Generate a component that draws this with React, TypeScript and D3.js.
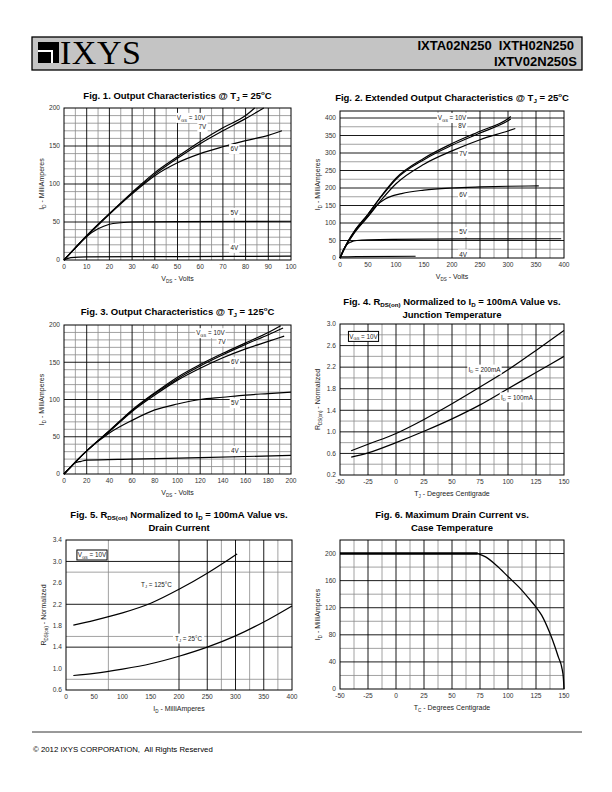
import React from 'react';
import * as d3 from 'd3';

type Pt = [number, number];

const FONT = "'Liberation Sans', Arial, Helvetica, sans-serif";
const NARROW = "'Liberation Sans Narrow', 'Arial Narrow', 'Liberation Sans', Arial, sans-serif";

// ---------------- Fig. 1 ----------------
const fig1XTicks = [0, 10, 20, 30, 40, 50, 60, 70, 80, 90, 100];
const fig1YTicks = [0, 50, 100, 150, 200];
const fig1Vgs10: Pt[] = [[0, 0], [5, 16], [10, 32], [20, 61], [30, 89], [40, 115], [50, 136], [60, 156], [70, 174], [80, 190], [84, 200]];
const fig1Vgs7: Pt[] = [[0, 0], [5, 16], [10, 32], [20, 61], [30, 88], [40, 113], [50, 134], [60, 153], [70, 170], [80, 186], [88, 200]];
const fig1Vgs6: Pt[] = [[0, 0], [5, 16], [10, 31], [20, 60], [30, 87], [40, 111], [50, 128], [60, 140], [70, 149], [80, 157], [90, 164], [96, 170]];
const fig1Vgs5: Pt[] = [[0, 0], [5, 16], [10, 31], [15, 41], [20, 47], [25, 49], [30, 50], [50, 50.5], [100, 51]];
const fig1Vgs4: Pt[] = [[0, 0], [3, 3], [10, 4], [50, 4.5], [100, 5]];

// ---------------- Fig. 2 ----------------
const fig2XTicks = [0, 50, 100, 150, 200, 250, 300, 350, 400];
const fig2YTicks = [0, 50, 100, 150, 200, 250, 300, 350, 400];
const fig2Vgs10: Pt[] = [[0, 0], [10, 35], [25, 75], [50, 125], [75, 180], [100, 228], [150, 285], [200, 327], [250, 362], [300, 398], [305, 404]];
const fig2Vgs8: Pt[] = [[0, 0], [10, 35], [25, 75], [50, 125], [75, 178], [100, 225], [150, 281], [200, 322], [250, 357], [300, 392], [305, 397]];
const fig2Vgs7: Pt[] = [[0, 0], [10, 33], [25, 70], [50, 118], [75, 168], [100, 212], [150, 268], [200, 306], [250, 338], [300, 363], [313, 370]];
const fig2Vgs6: Pt[] = [[0, 0], [10, 33], [25, 72], [50, 120], [65, 150], [80, 168], [110, 184], [150, 194], [200, 200], [250, 203], [300, 205], [355, 206]];
const fig2Vgs5: Pt[] = [[0, 0], [5, 20], [12, 38], [20, 46], [30, 50], [50, 52], [150, 54], [395, 55]];
const fig2Vgs4: Pt[] = [[0, 0], [3, 3], [30, 4], [135, 5]];

// ---------------- Fig. 3 ----------------
const fig3XTicks = [0, 20, 40, 60, 80, 100, 120, 140, 160, 180, 200];
const fig3YTicks = [0, 50, 100, 150, 200];
const fig3Vgs10: Pt[] = [[0, 0], [10, 16], [20, 31], [40, 58], [60, 86], [80, 109], [100, 130], [120, 147], [140, 162], [160, 176], [180, 190], [191, 199]];
const fig3Vgs7: Pt[] = [[0, 0], [10, 16], [20, 31], [40, 58], [60, 85], [80, 108], [100, 128], [120, 145], [140, 160], [160, 174], [180, 187], [193, 196]];
const fig3Vgs6: Pt[] = [[0, 0], [10, 16], [20, 31], [40, 57], [60, 84], [80, 106], [100, 126], [120, 142], [140, 156], [160, 168], [180, 178], [194, 185]];
const fig3Vgs5: Pt[] = [[0, 0], [10, 16], [20, 31], [40, 55], [60, 72], [80, 86], [100, 94], [120, 100], [140, 103], [160, 106], [180, 108], [200, 110]];
const fig3Vgs4: Pt[] = [[0, 0], [5, 8], [10, 15], [15, 17], [20, 18.5], [60, 20], [120, 22], [200, 25]];

// ---------------- Fig. 4 ----------------
const fig4XTicks = [-50, -25, 0, 25, 50, 75, 100, 125, 150];
const fig4YTicks = [0.2, 0.6, 1.0, 1.4, 1.8, 2.2, 2.6, 3.0];
const fig4Id200: Pt[] = [[-40, 0.65], [-25, 0.77], [0, 0.97], [25, 1.23], [50, 1.52], [75, 1.83], [100, 2.15], [125, 2.51], [150, 2.88]];
const fig4Id100: Pt[] = [[-40, 0.53], [-25, 0.61], [0, 0.8], [25, 1.01], [50, 1.24], [75, 1.5], [100, 1.8], [125, 2.1], [150, 2.4]];

// ---------------- Fig. 5 ----------------
const fig5XTicks = [0, 50, 100, 150, 200, 250, 300, 350, 400];
const fig5YTicks = [0.6, 1.0, 1.4, 1.8, 2.2, 2.6, 3.0, 3.4];
const fig5Tj125: Pt[] = [[13, 1.81], [50, 1.9], [100, 2.04], [150, 2.22], [200, 2.48], [250, 2.78], [290, 3.05], [303, 3.14]];
const fig5Tj25: Pt[] = [[13, 0.87], [50, 0.91], [100, 0.99], [150, 1.09], [200, 1.23], [250, 1.4], [300, 1.61], [350, 1.87], [400, 2.17]];

// ---------------- Fig. 6 ----------------
const fig6XTicks = [-50, -25, 0, 25, 50, 75, 100, 125, 150];
const fig6YTicks = [0, 40, 80, 120, 160, 200];
const fig6Flat: Pt[] = [[-50, 200], [73, 200]];
const fig6Derate: Pt[] = [[73, 200], [80, 195], [90, 182], [100, 166], [110, 150], [120, 131], [125, 121], [130, 109], [137, 84], [142, 62], [145, 47], [148, 32], [149.5, 15], [150, 0]];

type Kind = 'n' | 'sub' | 'sup';
function parseRich(s: string) {
  const out: { t: string; k: Kind }[] = [];
  const re = /_\{([^}]*)\}|\^\{([^}]*)\}|([^_^]+)/g;
  let m: RegExpExecArray | null;
  while ((m = re.exec(s))) {
    if (m[1] !== undefined) out.push({ t: m[1], k: 'sub' });
    else if (m[2] !== undefined) out.push({ t: m[2], k: 'sup' });
    else out.push({ t: m[3], k: 'n' });
  }
  return out;
}
function estW(s: string, size: number, f = 0.5) {
  return parseRich(s).reduce((a, sg) => a + sg.t.length * (sg.k === 'n' ? size : size * 0.65) * f, 0);
}

function Rich(p: { text: string; x: number; y: number; size: number; anchor?: string; weight?: string | number; fill?: string; family?: string; transform?: string }) {
  const segs = parseRich(p.text);
  let prev = 0;
  return (
    <text x={p.x} y={p.y} fontSize={p.size} textAnchor={p.anchor || 'start'} fontWeight={p.weight || 'normal'} fill={p.fill || '#000'} fontFamily={p.family || FONT} transform={p.transform}>
      {segs.map((s, i) => {
        const shift = s.k === 'sub' ? p.size * 0.25 : s.k === 'sup' ? -p.size * 0.38 : 0;
        const dy = shift - prev;
        prev = shift;
        return (
          <tspan key={i} dy={dy} fontSize={s.k === 'n' ? p.size : p.size * 0.65}>
            {s.t}
          </tspan>
        );
      })}
    </text>
  );
}

interface Lbl { text: string; x: number; y: number; boxed?: boolean }
interface Ser { pts: Pt[]; w?: number }
interface Cfg {
  left: number; top: number; width: number; height: number;
  xDomain: [number, number]; yDomain: [number, number];
  xTicks: number[]; yTicks: number[]; yFmt?: (v: number) => string;
  vMajor: number[]; vMinor: number[]; hMajor: number[]; hMinor: number[];
  series: Ser[]; labels: Lbl[];
  title: string[]; titleY: number[];
  xTitle: string; yTitle: string;
}

function Chart({ c }: { c: Cfg }) {
  const x = d3.scaleLinear().domain(c.xDomain).range([c.left, c.left + c.width]);
  const y = d3.scaleLinear().domain(c.yDomain).range([c.top + c.height, c.top]);
  const line = d3.line<Pt>().x(d => x(d[0])).y(d => y(d[1])).curve(d3.curveMonotoneX);
  const bottom = c.top + c.height;
  const right = c.left + c.width;
  const cx = c.left + c.width / 2;
  const cy = c.top + c.height / 2;
  const fmt = c.yFmt || ((v: number) => String(v));
  return (
    <g>
      {c.vMinor.map((v, i) => <line key={'vm' + i} x1={x(v)} x2={x(v)} y1={c.top} y2={bottom} stroke="#8a8a8a" strokeWidth={0.8} />)}
      {c.hMinor.map((v, i) => <line key={'hm' + i} y1={y(v)} y2={y(v)} x1={c.left} x2={right} stroke="#8a8a8a" strokeWidth={0.8} />)}
      {c.vMajor.map((v, i) => <line key={'vM' + i} x1={x(v)} x2={x(v)} y1={c.top} y2={bottom} stroke="#000" strokeWidth={0.9} />)}
      {c.hMajor.map((v, i) => <line key={'hM' + i} y1={y(v)} y2={y(v)} x1={c.left} x2={right} stroke="#000" strokeWidth={0.9} />)}
      {c.series.map((s, i) => <path key={'s' + i} d={line(s.pts) || ''} fill="none" stroke="#000" strokeWidth={s.w || 1.2} />)}
      {c.labels.map((l, i) => {
        const w = estW(l.text, 6.3) + 4;
        const lx = x(l.x);
        const ly = y(l.y);
        return (
          <g key={'l' + i}>
            <rect x={lx - w / 2} y={ly - 5} width={w} height={10} fill="#fff" stroke={l.boxed ? '#000' : 'none'} strokeWidth={l.boxed ? 1 : 0} />
            <Rich text={l.text} x={lx} y={ly + 2.2} size={6.3} anchor="middle" fill="#222" />
          </g>
        );
      })}
      <rect x={c.left} y={c.top} width={c.width} height={c.height} fill="none" stroke="#000" strokeWidth={1} />
      {c.xTicks.map((v, i) => (
        <text key={'xt' + i} x={x(v)} y={bottom + 9} fontSize={6.6} textAnchor="middle" fill="#333" fontFamily={FONT}>{v}</text>
      ))}
      {c.yTicks.map((v, i) => (
        <text key={'yt' + i} x={c.left - 4} y={y(v) + 2.3} fontSize={6.6} textAnchor="end" fill="#333" fontFamily={FONT}>{fmt(v)}</text>
      ))}
      <Rich text={c.xTitle} x={cx} y={bottom + 21} size={7} anchor="middle" fill="#222" />
      <Rich text={c.yTitle} x={0} y={0} size={7} anchor="middle" fill="#222" transform={`translate(${c.left - 20},${cy}) rotate(-90)`} />
      {c.title.map((t, i) => (
        <Rich key={'t' + i} text={t} x={cx} y={c.titleY[i]} size={9.5} anchor="middle" weight="bold" family={NARROW} />
      ))}
    </g>
  );
}

const grid = (a: number, b: number, s: number, skip: number[] = []) =>
  d3.range(a, b + s / 2, s).filter(v => !skip.some(k => Math.abs(k - v) < 1e-6));

const charts: Cfg[] = [
  {
    left: 64, top: 108, width: 227, height: 152, xDomain: [0, 100], yDomain: [0, 200],
    xTicks: fig1XTicks, yTicks: fig1YTicks,
    vMajor: grid(10, 90, 10), vMinor: grid(5, 95, 10), hMajor: [50, 100, 150], hMinor: grid(10, 190, 10, [50, 100, 150]),
    series: [{ pts: fig1Vgs10 }, { pts: fig1Vgs7 }, { pts: fig1Vgs6 }, { pts: fig1Vgs5 }, { pts: fig1Vgs4 }],
    labels: [
      { text: 'V_{GS} = 10V', x: 56, y: 187 }, { text: '7V', x: 61, y: 175 }, { text: '6V', x: 75, y: 146 },
      { text: '5V', x: 75, y: 62 }, { text: '4V', x: 75, y: 16 },
    ],
    title: ['Fig. 1. Output Characteristics @ T_{J} = 25^{o}C'], titleY: [99],
    xTitle: 'V_{DS} - Volts', yTitle: 'I_{D} - MilliAmperes',
  },
  {
    left: 340, top: 111, width: 224, height: 147, xDomain: [0, 400], yDomain: [0, 420],
    xTicks: fig2XTicks, yTicks: fig2YTicks,
    vMajor: [200, 250, 300, 350], vMinor: [175, 225, 275, 325, 375], hMajor: grid(50, 400, 50), hMinor: grid(25, 375, 50),
    series: [{ pts: fig2Vgs10 }, { pts: fig2Vgs8 }, { pts: fig2Vgs7 }, { pts: fig2Vgs6 }, { pts: fig2Vgs5 }, { pts: fig2Vgs4 }],
    labels: [
      { text: 'V_{GS} = 10V', x: 200, y: 400 }, { text: '8V', x: 218, y: 377 }, { text: '7V', x: 220, y: 297 },
      { text: '6V', x: 220, y: 181 }, { text: '5V', x: 220, y: 74 }, { text: '4V', x: 220, y: 10 },
    ],
    title: ['Fig. 2. Extended Output Characteristics @ T_{J} = 25^{o}C'], titleY: [101],
    xTitle: 'V_{DS} - Volts', yTitle: 'I_{D} - MilliAmperes',
  },
  {
    left: 64, top: 325, width: 227, height: 149, xDomain: [0, 200], yDomain: [0, 200],
    xTicks: fig3XTicks, yTicks: fig3YTicks,
    vMajor: [20, 60, 120, 160, 180], vMinor: [10, 30, 40, 50, 70, 80, 90, 100, 110, 130, 140, 150, 170, 190],
    hMajor: [50, 100, 150], hMinor: grid(10, 190, 10, [50, 100, 150]),
    series: [{ pts: fig3Vgs10 }, { pts: fig3Vgs7 }, { pts: fig3Vgs6 }, { pts: fig3Vgs5 }, { pts: fig3Vgs4 }],
    labels: [
      { text: 'V_{GS} = 10V', x: 129, y: 189 }, { text: '7V', x: 139, y: 178 }, { text: '6V', x: 150.5, y: 150 },
      { text: '5V', x: 150.5, y: 95 }, { text: '4V', x: 150.5, y: 31 },
    ],
    title: ['Fig. 3. Output Characteristics @ T_{J} = 125^{o}C'], titleY: [315],
    xTitle: 'V_{DS} - Volts', yTitle: 'I_{D} - MilliAmperes',
  },
  {
    left: 340, top: 324, width: 224, height: 151, xDomain: [-50, 150], yDomain: [0.2, 3.0],
    xTicks: fig4XTicks, yTicks: fig4YTicks, yFmt: d3.format('.1f'),
    vMajor: grid(-25, 125, 25), vMinor: grid(-37.5, 137.5, 25), hMajor: [0.6, 1.0, 1.4, 1.8, 2.2, 2.6], hMinor: [0.4, 0.8, 1.2, 1.6, 2.0, 2.4, 2.8],
    series: [{ pts: fig4Id200 }, { pts: fig4Id100 }],
    labels: [
      { text: 'V_{GS} = 10V', x: -29, y: 2.77, boxed: true },
      { text: 'I_{D} = 200mA', x: 79, y: 2.155 }, { text: 'I_{D} = 100mA', x: 108, y: 1.64 },
    ],
    title: ['Fig. 4. R_{DS(on)} Normalized to I_{D} = 100mA Value vs.', 'Junction Temperature'], titleY: [305, 318],
    xTitle: 'T_{J} - Degrees Centigrade', yTitle: 'R_{DS(on)} - Normalized',
  },
  {
    left: 66, top: 540, width: 226, height: 150, xDomain: [0, 400], yDomain: [0.6, 3.4],
    xTicks: fig5XTicks, yTicks: fig5YTicks, yFmt: d3.format('.1f'),
    vMajor: [200, 250, 300, 350], vMinor: [75, 275, 325, 375], hMajor: [1.4, 2.2, 3.0], hMinor: [0.8, 1.6, 2.8],
    series: [{ pts: fig5Tj125 }, { pts: fig5Tj25 }],
    labels: [
      { text: 'V_{GS} = 10V', x: 46, y: 3.12, boxed: true },
      { text: 'T_{J} = 125°C', x: 160, y: 2.57 }, { text: 'T_{J} = 25°C', x: 217, y: 1.56 },
    ],
    title: ['Fig. 5. R_{DS(on)} Normalized to I_{D} = 100mA Value vs.', 'Drain Current'], titleY: [518, 531],
    xTitle: 'I_{D} - MilliAmperes', yTitle: 'R_{DS(on)} - Normalized',
  },
  {
    left: 340, top: 540, width: 224, height: 149, xDomain: [-50, 150], yDomain: [0, 220],
    xTicks: fig6XTicks, yTicks: fig6YTicks,
    vMajor: grid(-25, 125, 25), vMinor: grid(-37.5, 137.5, 25), hMajor: [40, 80, 120, 160, 200], hMinor: [20, 60, 100, 140, 180],
    series: [{ pts: fig6Flat, w: 2.6 }, { pts: fig6Derate, w: 1.3 }],
    labels: [],
    title: ['Fig. 6. Maximum Drain Current vs.', 'Case Temperature'], titleY: [518, 531],
    xTitle: 'T_{C} - Degrees Centigrade', yTitle: 'I_{D} - MilliAmperes',
  },
];

export default function App() {
  return (
    <svg width={612} height={792} viewBox="0 0 612 792" style={{ position: 'absolute', left: 0, top: 0, background: '#fff' }}>
      <rect x={0} y={0} width={612} height={792} fill="#fff" />
      {/* header */}
      <rect x={32} y={37} width={550} height={33} fill="#c4c4c4" stroke="#000" strokeWidth={1.3} />
      <rect x={38} y={42} width={21} height={21} fill="#000" />
      <rect x={38} y={50} width={15} height={2} fill="#fff" />
      <rect x={51} y={50} width={2} height={13} fill="#fff" />
      <text x={60} y={63.5} fontSize={34} letterSpacing={0.5} fontFamily="'Liberation Serif', 'DejaVu Serif', serif" fill="#000">IXYS</text>
      <text x={574} y={50} fontSize={13} fontWeight="bold" textAnchor="end" fontFamily={FONT} fill="#000">{'IXTA02N250\u00a0\u00a0IXTH02N250'}</text>
      <text x={577} y={66} fontSize={13} fontWeight="bold" textAnchor="end" fontFamily={FONT} fill="#000">IXTV02N250S</text>
      {charts.map((c, i) => <Chart key={i} c={c} />)}
      {/* footer */}
      <line x1={32} x2={582} y1={732} y2={732} stroke="#000" strokeWidth={0.8} />
      <text x={33} y={752} fontSize={7.8} fontFamily={FONT} fill="#000">{'© 2012 IXYS CORPORATION,\u00a0\u00a0All Rights Reserved'}</text>
    </svg>
  );
}
